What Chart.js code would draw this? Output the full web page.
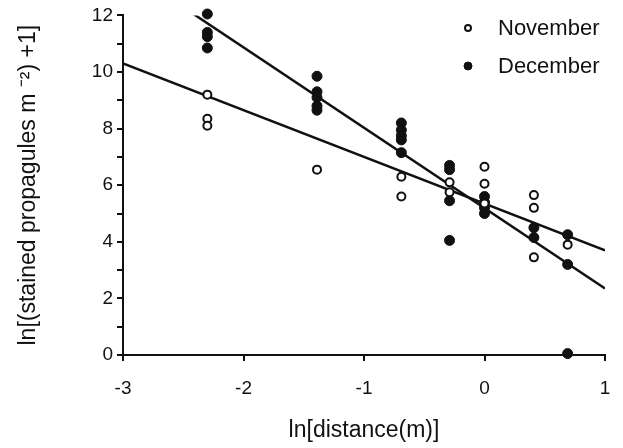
<!DOCTYPE html>
<html>
<head>
<meta charset="utf-8">
<script src="https://cdn.jsdelivr.net/npm/chart.js@4.4.1/dist/chart.umd.min.js"></script>
<style>
  html, body { margin: 0; padding: 0; background: #fff; }
  canvas { display: block; }
</style>
</head>
<body>
<canvas id="myChart" width="623" height="448"></canvas>
<script>
// sampling distances, ln(m)
const novX = [-2.30, -2.30, -2.30, -1.39, -0.69, -0.69, -0.29, -0.29, 0, 0, 0, 0.41, 0.41, 0.41, 0.69];
const novY = [9.2, 8.35, 8.1, 6.55, 6.3, 5.6, 6.1, 5.75, 6.65, 6.05, 5.35, 5.65, 5.2, 3.45, 3.9];

const decX = [-2.30, -2.30, -2.30, -2.30, -1.39, -1.39, -1.39, -1.39, -1.39,
  -0.69, -0.69, -0.69, -0.69, -0.69, -0.29, -0.29, -0.29, -0.29,
  0, 0, 0, 0, 0.41, 0.41, 0.69, 0.69, 0.69];
const decY = [12.05, 11.4, 11.25, 10.85, 9.85, 9.3, 9.1, 8.8, 8.65,
  8.2, 7.95, 7.75, 7.6, 7.15, 6.7, 6.55, 5.45, 4.05,
  5.6, 5.4, 5.2, 5.0, 4.5, 4.15, 4.25, 3.2, 0.05];

// regression lines: [slope, intercept], drawn over [xFrom, xTo]
const novFit = [-1.65, 5.35];
const novRange = [-3, 1];
const decFit = [-2.84, 5.19];
const decRange = [-2.45, 1];

const xTicks = [-3, -2, -1, 0, 1];
const yMax = 12;

const seriesNames = ["November", "December"];

const FONT = '"Liberation Sans", Arial, sans-serif';

function pts(xs, ys) {
  return xs.map((x, i) => ({ x: x, y: ys[i] }));
}
function fitLine(fit, range) {
  return range.map(x => ({ x: x, y: fit[0] * x + fit[1] }));
}

// legend drawn inside the plot, top right
const innerLegend = {
  id: 'innerLegend',
  afterDraw(chart) {
    const ctx = chart.ctx;
    ctx.save();
    ctx.font = '22px ' + FONT;
    ctx.textBaseline = 'middle';
    ctx.fillStyle = '#111';
    chart.data.datasets.filter(d => !d.showLine).forEach((d, i) => {
      const y = 28 + i * 38;
      ctx.beginPath();
      ctx.arc(468, y, d.pointRadius - 1, 0, Math.PI * 2);
      ctx.fillStyle = d.pointBackgroundColor;
      ctx.fill();
      ctx.lineWidth = d.pointBorderWidth;
      ctx.strokeStyle = '#111';
      ctx.stroke();
      ctx.fillStyle = '#111';
      ctx.fillText(d.label, 498, y + 1);
    });
    ctx.restore();
  }
};

new Chart("myChart", {
  type: 'scatter',
  data: {
    datasets: [
      {
        label: seriesNames[0],
        data: pts(novX, novY),
        pointRadius: 4,
        pointBorderWidth: 2,
        pointBackgroundColor: '#fff',
        pointBorderColor: '#111',
        clip: false,
        order: 1
      },
      {
        label: seriesNames[1],
        data: pts(decX, decY),
        pointRadius: 5,
        pointBorderWidth: 1,
        pointBackgroundColor: '#111',
        pointBorderColor: '#111',
        clip: false,
        order: 1
      },
      {
        label: 'November fit',
        data: fitLine(novFit, novRange),
        showLine: true,
        pointRadius: 0,
        borderColor: '#111',
        borderWidth: 2.5,
        order: 2
      },
      {
        label: 'December fit',
        data: fitLine(decFit, decRange),
        showLine: true,
        pointRadius: 0,
        borderColor: '#111',
        borderWidth: 2.5,
        order: 2
      }
    ]
  },
  options: {
    responsive: false,
    animation: false,
    layout: { padding: { top: 14, right: 18, left: 0, bottom: 0 } },
    plugins: {
      legend: { display: false },
      tooltip: { enabled: false }
    },
    scales: {
      x: {
        type: 'linear',
        min: xTicks[0],
        max: xTicks[xTicks.length - 1],
        afterBuildTicks: (s) => { s.ticks = xTicks.map(v => ({ value: v })); },
        afterFit: (s) => { s.height = 93; s.paddingRight = 0; },
        grid: { drawOnChartArea: false, color: '#111', lineWidth: 2, tickLength: 6 },
        border: { color: '#111', width: 2 },
        ticks: { color: '#111', font: { family: FONT, size: 19 }, padding: 16 },
        title: {
          display: true,
          text: 'ln[distance(m)]',
          color: '#111',
          font: { family: FONT, size: 23 },
          padding: { top: 12 }
        }
      },
      y: {
        min: 0,
        max: yMax,
        afterFit: (s) => { s.width = 123; },
        grid: { drawOnChartArea: false, color: '#111', lineWidth: 2, tickLength: 6 },
        border: { color: '#111', width: 2 },
        ticks: {
          stepSize: 1,
          color: '#111',
          font: { family: FONT, size: 19 },
          padding: 4,
          callback: (v) => (v % 2 === 0 ? v : '')
        },
        title: {
          display: true,
          text: 'ln[(stained propagules m \u207B\u00B2) +1]',
          color: '#111',
          font: { family: FONT, size: 23 },
          padding: { top: 15 }
        }
      }
    }
  },
  plugins: [innerLegend]
});
</script>
</body>
</html>
